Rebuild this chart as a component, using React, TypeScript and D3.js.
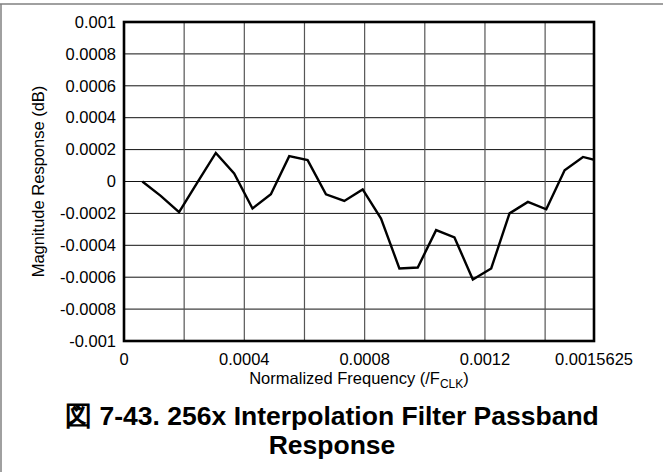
import React from "react";
import * as d3 from "d3";

const frequencies = [
  0.000061, 0.0001221, 0.0001831, 0.0002441, 0.0003052, 0.0003662, 0.0004272,
  0.0004883, 0.0005493, 0.0006104, 0.0006714, 0.0007324, 0.0007935, 0.0008545,
  0.0009155, 0.0009766, 0.0010376, 0.0010986, 0.0011597, 0.0012207, 0.0012817,
  0.0013428, 0.0014038, 0.0014648, 0.0015259, 0.0015869,
];
const magnitudes = [
  0.0, -0.00009, -0.000192, -0.000005, 0.000179, 0.00005, -0.000169, -0.00008,
  0.000159, 0.000134, -0.00008, -0.000122, -0.00005, -0.000232, -0.000545,
  -0.000539, -0.000305, -0.000351, -0.000614, -0.000545, -0.0002, -0.000128,
  -0.000174, 0.000071, 0.000154, 0.000125,
];
const xGridValues = [0, 0.0002, 0.0004, 0.0006, 0.0008, 0.001, 0.0012, 0.0014];
const xTickValues = [0, 0.0004, 0.0008, 0.0012, 0.0015625];
const xTickLabels = ["0", "0.0004", "0.0008", "0.0012", "0.0015625"];
const yTickValues = [
  0.001, 0.0008, 0.0006, 0.0004, 0.0002, 0, -0.0002, -0.0004, -0.0006, -0.0008, -0.001,
];
const yTickLabels = [
  "0.001", "0.0008", "0.0006", "0.0004", "0.0002", "0", "-0.0002", "-0.0004",
  "-0.0006", "-0.0008", "-0.001",
];
const xAxisTitle = "Normalized Frequency (/F";
const xAxisSub = "CLK";
const yAxisTitle = "Magnitude Response (dB)";
const titleLine1 = "図 7-43. 256x Interpolation Filter Passband";
const titleLine2 = "Response";

const W = 663;
const H = 472;
const L = 124;
const R = 594;
const T = 22;
const B = 341;
const FONT = "'Liberation Sans', Arial, Helvetica, sans-serif";

export default function App() {
  const x = d3.scaleLinear().domain([0, 0.0015625]).range([L, R]);
  const y = d3.scaleLinear().domain([-0.001, 0.001]).range([B, T]);
  const line = d3
    .line<number>()
    .x((_, i) => x(frequencies[i]))
    .y((d) => y(d));
  const path = line(magnitudes) || "";

  return (
    <svg
      width={W}
      height={H}
      style={{ position: "absolute", left: 0, top: 0, background: "#fff" }}
      fontFamily={FONT}
    >
      <rect x={0} y={0} width={W} height={H} fill="#fff" />
      {/* outer figure frame */}
      <line x1={0} x2={W} y1={4} y2={4} stroke="#808080" strokeWidth={1.5} />
      <line x1={1} x2={1} y1={4} y2={H} stroke="#808080" strokeWidth={1.5} />

      <defs>
        <clipPath id="plotClip">
          <rect x={L} y={T} width={R - L} height={B - T} />
        </clipPath>
      </defs>

      {/* grid */}
      {yTickValues.map((v, i) => (
        <line key={"h" + i} x1={L} x2={R} y1={y(v)} y2={y(v)} stroke="#111" strokeWidth={1} />
      ))}
      {xGridValues.map((v, i) => (
        <line key={"v" + i} x1={x(v)} x2={x(v)} y1={T} y2={B} stroke="#555" strokeWidth={1.2} />
      ))}

      {/* data */}
      <path
        d={path}
        fill="none"
        stroke="#000"
        strokeWidth={2.4}
        strokeLinejoin="miter"
        clipPath="url(#plotClip)"
      />

      {/* frame */}
      <rect x={L} y={T} width={R - L} height={B - T} fill="none" stroke="#000" strokeWidth={2.6} />

      {/* y ticks */}
      {yTickValues.map((v, i) => (
        <text
          key={"yl" + i}
          x={116}
          y={y(v)}
          dy="0.35em"
          textAnchor="end"
          fontSize={16.5}
          fill="#000"
        >
          {yTickLabels[i]}
        </text>
      ))}
      {/* x ticks */}
      {xTickValues.map((v, i) => (
        <text key={"xl" + i} x={x(v)} y={365} textAnchor="middle" fontSize={16.5} fill="#000">
          {xTickLabels[i]}
        </text>
      ))}

      {/* axis titles */}
      <text x={(L + R) / 2} y={384} textAnchor="middle" fontSize={16.5} fill="#000">
        {xAxisTitle}
        <tspan fontSize={12} dy={4}>
          {xAxisSub}
        </tspan>
        <tspan dy={-4}>)</tspan>
      </text>
      <text
        transform={`translate(44, ${(T + B) / 2}) rotate(-90)`}
        textAnchor="middle"
        fontSize={16.5}
        fill="#000"
      >
        {yAxisTitle}
      </text>

      {/* title */}
      <text x={332} y={425} textAnchor="middle" fontSize={26.5} fontWeight="bold" fill="#000">
        {titleLine1}
      </text>
      <text x={332} y={454} textAnchor="middle" fontSize={26.5} fontWeight="bold" fill="#000">
        {titleLine2}
      </text>
    </svg>
  );
}
